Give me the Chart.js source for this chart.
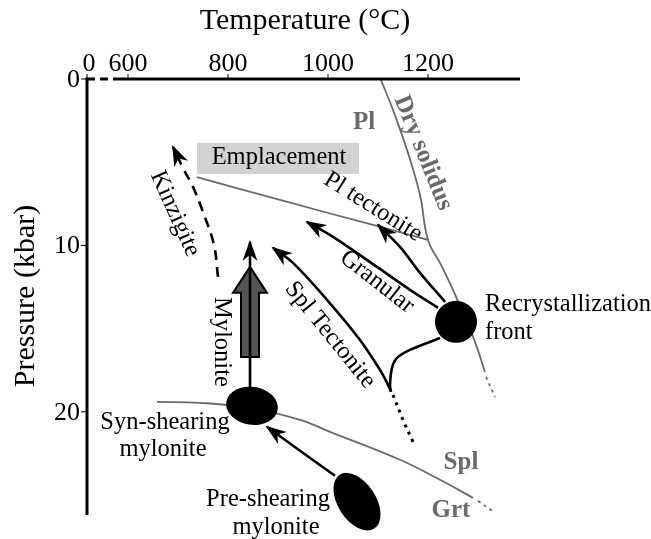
<!DOCTYPE html>
<html>
<head>
<meta charset="utf-8">
<script src="https://cdn.jsdelivr.net/npm/chart.js@4.4.0/dist/chart.umd.min.js"></script>
<style>
  body { margin: 0; background: #fff; }
  canvas { display: block; }
</style>
</head>
<body>
<canvas id="pt" width="651" height="539"></canvas>
<script>
// ---- data: temperature (°C), pressure (kbar) ----
const xTicks = [600, 800, 1000, 1200];
const yTicks = [0, 10, 20];

const drySolidus = [[1106, 0.06], [1130, 1.86], [1158, 4.26], [1184, 6.97], [1200, 9.67], [1226, 11.17], [1250, 12.67], [1274, 14.35], [1294, 15.8], [1314, 17.6]];
const drySolidusExt = [[1316, 17.9], [1334, 19.1]];
const plBoundary = [[738, 5.89], [904, 7.27], [1090, 8.77], [1200, 9.67]];
const splGrt = [[658, 19.4], [744, 19.46], [844, 19.76], [944, 20.48], [1004, 21.2], [1144, 22.88], [1224, 24.08], [1290, 25.17]];
const splGrtExt = [[1300, 25.35], [1334, 26.07]];

const kinzigite = [[780, 11.89], [772, 9.97], [750, 7.99], [730, 6.49], [710, 5.35], [690, 4.08]];
const mylonitePath = [[844, 19.2], [844, 9.79]];
const myloniteBand = [844, 16.7, 12.85, 11.29]; // T, base, head base, tip
const splTectonite = [[1126, 18.8], [1120, 18.38], [1104, 17.48], [1064, 15.68], [998, 13.27], [930, 11.05], [890, 10.15]];
const splTectoniteExt = [[1130, 18.98], [1150, 20.48], [1170, 21.8]];
const frontBranch = [[1224, 15.56], [1164, 16.28], [1138, 16.76], [1128, 17.36], [1124, 18.38], [1126, 18.8]];
const granular = [[1220, 13.75], [1164, 12.67], [1098, 11.29], [1010, 9.49], [958, 8.59]];
const plTectonite = [[1234, 13.39], [1184, 11.65], [1144, 10.09], [1100, 8.77]];
const preToSyn = [[1014, 23.84], [944, 22.34], [878, 20.9]];

const emplacement = [738, 1062, 3.84, 5.71];
const recrystFront = [1256, 14.59];
const synShearing = [848, 19.64];
const preShearing = [1058, 25.4];

// text annotations (T, P, rotation in degrees)
const notes = [
  { text: 'Emplacement', T: 902, P: 4.74, rot: 0, kind: 'black' },
  { text: 'Kinzigite', T: 694, P: 8.1, rot: 66, kind: 'black' },
  { text: 'Mylonite', T: 786, P: 15.8, rot: 90, kind: 'black' },
  { text: 'Pl tectonite', T: 1090, P: 7.69, rot: 32, kind: 'black' },
  { text: 'Granular', T: 1098, P: 12.19, rot: 38, kind: 'black' },
  { text: 'Spl Tectonite', T: 1004, P: 15.38, rot: 51, kind: 'black' },
  { text: 'Syn-shearing', T: 674, P: 20.66, rot: 0, kind: 'black' },
  { text: 'mylonite', T: 670, P: 22.28, rot: 0, kind: 'black' },
  { text: 'Pre-shearing', T: 880, P: 25.29, rot: 0, kind: 'black' },
  { text: 'mylonite', T: 896, P: 26.97, rot: 0, kind: 'black' },
  { text: 'Recrystallization', T: 1314, P: 13.57, rot: 0, kind: 'left' },
  { text: 'front', T: 1314, P: 15.26, rot: 0, kind: 'left' },
  { text: 'Pl', T: 1072, P: 2.64, rot: 0, kind: 'gray' },
  { text: 'Dry solidus', T: 1190, P: 4.44, rot: 68, kind: 'gray' },
  { text: 'Spl', T: 1266, P: 23.06, rot: 0, kind: 'gray' },
  { text: 'Grt', T: 1246, P: 25.95, rot: 0, kind: 'gray' }
];

const SERIF = '"Liberation Serif", "Times New Roman", serif';
const GRAY = '#6a6a6a';

function pts(arr) {
  return arr.map(p => ({ x: p[0], y: p[1] }));
}

function boundary(arr, dash) {
  return { data: pts(arr), borderColor: GRAY, borderWidth: 1.8, borderDash: dash || [], tension: 0.4 };
}

function path(arr, opts) {
  return Object.assign({ data: pts(arr), borderColor: '#000', borderWidth: 2.6, tension: 0.35, borderCapStyle: 'butt' }, opts || {});
}

function arrowHead(ctx, from, to, len, half) {
  const a = Math.atan2(to.y - from.y, to.x - from.x);
  ctx.save();
  ctx.translate(to.x, to.y);
  ctx.rotate(a);
  ctx.beginPath();
  ctx.moveTo(2, 0);
  ctx.lineTo(-len, -half);
  ctx.lineTo(-len * 0.68, 0);
  ctx.lineTo(-len, half);
  ctx.closePath();
  ctx.fill();
  ctx.restore();
}

const diagram = {
  id: 'diagram',
  beforeDatasetsDraw(chart) {
    const { ctx, scales: { x, y } } = chart;
    ctx.save();
    // emplacement box
    const bx0 = x.getPixelForValue(emplacement[0]), bx1 = x.getPixelForValue(emplacement[1]);
    const by0 = y.getPixelForValue(emplacement[2]), by1 = y.getPixelForValue(emplacement[3]);
    ctx.fillStyle = '#d2d2d2';
    ctx.fillRect(bx0, by0, bx1 - bx0, by1 - by0);

    // thick mylonite arrow
    const cx = x.getPixelForValue(myloniteBand[0]);
    const yb = y.getPixelForValue(myloniteBand[1]);
    const yh = y.getPixelForValue(myloniteBand[2]);
    const yt = y.getPixelForValue(myloniteBand[3]);
    ctx.beginPath();
    ctx.moveTo(cx - 9, yb);
    ctx.lineTo(cx - 9, yh);
    ctx.lineTo(cx - 17, yh);
    ctx.lineTo(cx, yt);
    ctx.lineTo(cx + 17, yh);
    ctx.lineTo(cx + 9, yh);
    ctx.lineTo(cx + 9, yb);
    ctx.closePath();
    ctx.fillStyle = '#555';
    ctx.fill();
    ctx.lineWidth = 2;
    ctx.strokeStyle = '#000';
    ctx.lineJoin = 'miter';
    ctx.stroke();
    ctx.restore();
  },
  afterDatasetsDraw(chart) {
    const { ctx, scales: { x, y } } = chart;
    ctx.save();
    ctx.fillStyle = '#000';
    chart.data.datasets.forEach((ds, i) => {
      if (!ds.arrow) return;
      const els = chart.getDatasetMeta(i).data;
      const a = els[els.length - 2], b = els[els.length - 1];
      arrowHead(ctx, a, b, 19, 7.5);
    });
    // recrystallization front
    ctx.beginPath();
    ctx.arc(x.getPixelForValue(recrystFront[0]), y.getPixelForValue(recrystFront[1]), 21, 0, Math.PI * 2);
    ctx.fill();
    // syn-shearing mylonite
    ctx.beginPath();
    ctx.ellipse(x.getPixelForValue(synShearing[0]), y.getPixelForValue(synShearing[1]), 26, 19, 0.15, 0, Math.PI * 2);
    ctx.fill();
    // pre-shearing mylonite
    ctx.beginPath();
    ctx.ellipse(x.getPixelForValue(preShearing[0]), y.getPixelForValue(preShearing[1]), 32, 19, 1.0, 0, Math.PI * 2);
    ctx.fill();
    ctx.restore();
  },
  afterDraw(chart) {
    const { ctx, chartArea: area, scales: { x, y } } = chart;
    ctx.save();
    ctx.strokeStyle = '#000';
    ctx.fillStyle = '#000';
    ctx.lineWidth = 3;
    // top (temperature) axis, broken near the origin
    const brk = x.getPixelForValue(584);
    ctx.beginPath();
    ctx.moveTo(brk, area.top);
    ctx.lineTo(area.right, area.top);
    ctx.stroke();
    ctx.setLineDash([8, 5]);
    ctx.beginPath();
    ctx.moveTo(area.left, area.top);
    ctx.lineTo(brk, area.top);
    ctx.stroke();
    ctx.setLineDash([]);
    // left (pressure) axis
    ctx.beginPath();
    ctx.moveTo(area.left, area.top - 1.5);
    ctx.lineTo(area.left, area.bottom);
    ctx.stroke();

    ctx.lineWidth = 1;
    ctx.font = '26px ' + SERIF;
    ctx.textAlign = 'center';
    ctx.textBaseline = 'alphabetic';
    xTicks.forEach(v => {
      const px = x.getPixelForValue(v);
      ctx.beginPath();
      ctx.moveTo(px, area.top - 5);
      ctx.lineTo(px, area.top);
      ctx.stroke();
      ctx.fillText(String(v), px, area.top - 8);
    });
    ctx.beginPath();
    ctx.moveTo(area.left, area.top - 5);
    ctx.lineTo(area.left, area.top);
    ctx.stroke();
    ctx.fillText('0', area.left + 2, area.top - 8);

    ctx.textAlign = 'right';
    ctx.textBaseline = 'middle';
    yTicks.forEach(v => {
      const py = y.getPixelForValue(v);
      ctx.beginPath();
      ctx.moveTo(area.left - 6, py);
      ctx.lineTo(area.left, py);
      ctx.stroke();
      ctx.fillText(String(v), area.left - 7, py + 1);
    });

    // axis titles
    ctx.font = '30px ' + SERIF;
    ctx.textAlign = 'center';
    ctx.textBaseline = 'middle';
    ctx.fillText('Temperature (°C)', 305, 21);
    ctx.save();
    ctx.translate(26, 296);
    ctx.rotate(-Math.PI / 2);
    ctx.fillText('Pressure (kbar)', 0, 0);
    ctx.restore();

    // annotations
    notes.forEach(n => {
      const px = x.getPixelForValue(n.T), py = y.getPixelForValue(n.P);
      ctx.save();
      ctx.translate(px, py);
      ctx.rotate(n.rot * Math.PI / 180);
      if (n.kind === 'gray') {
        ctx.font = 'bold 25px ' + SERIF;
        ctx.fillStyle = GRAY;
      } else {
        ctx.font = '24.5px ' + SERIF;
        ctx.fillStyle = '#000';
      }
      ctx.textAlign = n.kind === 'left' ? 'left' : 'center';
      ctx.textBaseline = 'middle';
      ctx.fillText(n.text, 0, 0);
      ctx.restore();
    });
    ctx.restore();
  }
};

new Chart(document.getElementById('pt'), {
  type: 'scatter',
  data: {
    datasets: [
      boundary(drySolidus),
      boundary(drySolidusExt, [3, 4]),
      boundary(plBoundary),
      boundary(splGrt),
      boundary(splGrtExt, [3, 4]),
      path(kinzigite, { borderDash: [10, 7], arrow: true }),
      path(mylonitePath, { arrow: true, tension: 0 }),
      path(splTectonite, { arrow: true }),
      path(splTectoniteExt, { borderDash: [3, 5], borderWidth: 3 }),
      path(frontBranch),
      path(granular, { arrow: true }),
      path(plTectonite, { arrow: true }),
      path(preToSyn, { arrow: true, tension: 0.2 })
    ].map(d => Object.assign(d, { showLine: true, pointRadius: 0, pointHoverRadius: 0, fill: false }))
  },
  options: {
    responsive: false,
    animation: false,
    devicePixelRatio: 1,
    layout: { padding: { left: 87, top: 79, right: 131, bottom: 24 } },
    plugins: { legend: { display: false }, tooltip: { enabled: false } },
    events: [],
    scales: {
      x: { type: 'linear', min: 518, max: 1384, display: false },
      y: { type: 'linear', reverse: true, min: 0, max: 26.2, display: false }
    }
  },
  plugins: [diagram]
});
</script>
</body>
</html>
